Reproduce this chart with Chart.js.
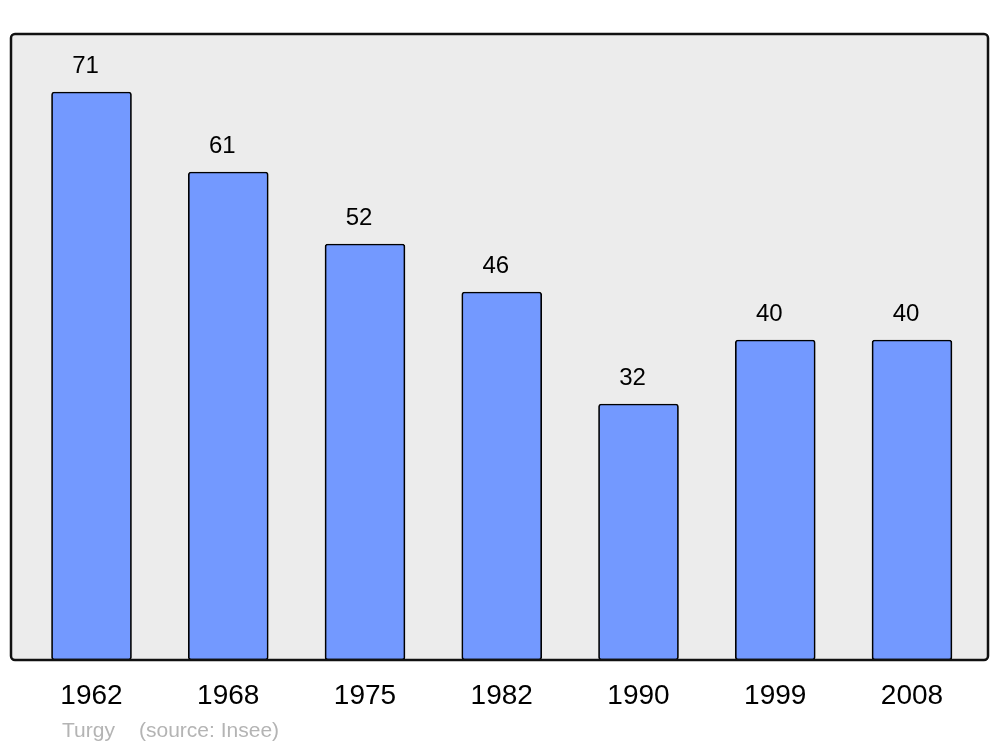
<!DOCTYPE html>
<html>
<head>
<meta charset="utf-8">
<script src="https://cdn.jsdelivr.net/npm/chart.js@4/dist/chart.umd.min.js"></script>
<style>
  html, body { margin: 0; padding: 0; background: #ffffff; }
  #wrap { width: 1000px; height: 747px; position: relative; }
</style>
</head>
<body>
<div id="wrap"><canvas id="c" width="1000" height="747"></canvas></div>
<script>
const categories = ['1962', '1968', '1975', '1982', '1990', '1999', '2008'];
const population = [71, 61, 52, 46, 32, 40, 40];
const footerPlace = 'Turgy';
const footerSource = '(source: Insee)';

const FONT = '"Liberation Sans", Arial, sans-serif';

const framePlugin = {
  id: 'frame',
  beforeDatasetsDraw(chart) {
    const { ctx, chartArea: a } = chart;
    ctx.save();
    ctx.beginPath();
    ctx.roundRect(a.left, a.top, a.right - a.left, a.bottom - a.top, 4);
    ctx.fillStyle = '#ececec';
    ctx.fill();
    ctx.restore();
  },
  afterDatasetsDraw(chart) {
    const { ctx, chartArea: a } = chart;
    ctx.save();
    ctx.beginPath();
    ctx.roundRect(a.left, a.top, a.right - a.left, a.bottom - a.top, 4);
    ctx.lineWidth = 2.5;
    ctx.strokeStyle = '#111111';
    ctx.stroke();
    // value labels
    const meta = chart.getDatasetMeta(0);
    ctx.fillStyle = '#000000';
    ctx.font = '24px ' + FONT;
    ctx.textAlign = 'center';
    ctx.textBaseline = 'alphabetic';
    meta.data.forEach((bar, i) => {
      ctx.fillText(String(population[i]), bar.x - 6, bar.y - 19);
    });
    // footer
    ctx.fillStyle = '#b4b4b4';
    ctx.font = '21px ' + FONT;
    ctx.textAlign = 'left';
    ctx.fillText(footerPlace, 62, 737);
    ctx.fillText(footerSource, 139, 737);
    ctx.restore();
  }
};

new Chart(document.getElementById('c'), {
  type: 'bar',
  data: {
    datasets: [{
      data: population.map((v, i) => ({ x: i, y: v })),
      backgroundColor: '#7399ff',
      borderColor: '#000000',
      borderWidth: 1.7,
      borderRadius: 3,
      borderSkipped: false,
      barThickness: 80
    }]
  },
  options: {
    responsive: false,
    devicePixelRatio: 1,
    animation: false,
    layout: { padding: { left: 11, right: 12, top: 34, bottom: 0 } },
    plugins: { legend: { display: false }, tooltip: { enabled: false }, title: { display: false } },
    scales: {
      x: {
        type: 'linear',
        min: -0.5887,
        max: 6.5558,
        offset: false,
        grid: { display: false, drawTicks: false },
        border: { display: false },
        afterBuildTicks: s => { s.ticks = categories.map((c, i) => ({ value: i })); },
        afterFit: s => { s.height = 87; },
        ticks: {
          autoSkip: false,
          maxRotation: 0,
          padding: 19,
          color: '#000000',
          font: { size: 28, family: FONT },
          callback: v => categories[v]
        }
      },
      y: {
        display: false,
        min: 0,
        max: 78.25
      }
    }
  },
  plugins: [framePlugin]
});
</script>
</body>
</html>
